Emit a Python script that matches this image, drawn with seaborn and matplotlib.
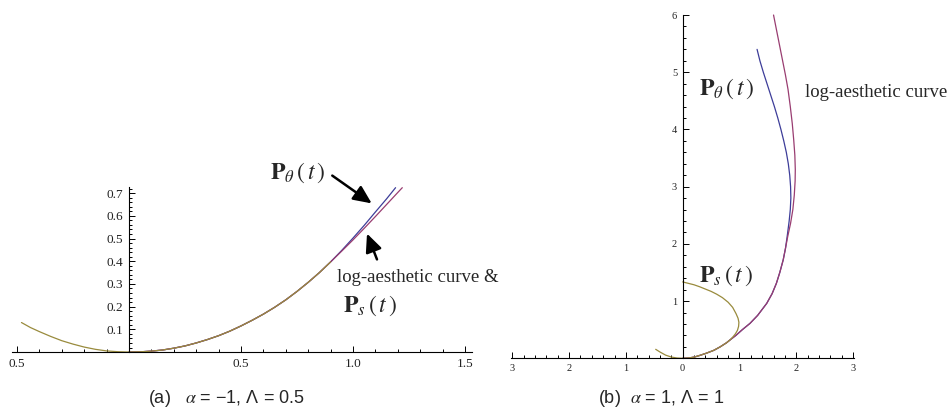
import matplotlib
matplotlib.use("Agg")
import matplotlib.pyplot as plt
import seaborn as sns
import numpy as np
from matplotlib.ticker import FixedLocator

# panel (a): alpha = -1, Lambda = 0.5
a_ps_x = [-0.48, -0.44, -0.4, -0.35, -0.3, -0.25, -0.2, -0.15, -0.1, -0.05, 0.0,
          0.05, 0.1, 0.15, 0.2, 0.25, 0.3, 0.35, 0.4, 0.45, 0.5, 0.55, 0.6, 0.65,
          0.7, 0.75, 0.8, 0.85, 0.9]
a_ps_y = [0.13, 0.108, 0.09, 0.069, 0.05, 0.035, 0.022, 0.012, 0.005, 0.0015, 0.0,
          0.001, 0.004, 0.009, 0.017, 0.027, 0.04, 0.055, 0.072, 0.092, 0.115, 0.14,
          0.167, 0.197, 0.23, 0.267, 0.307, 0.35, 0.397]
a_pth_tail_x = [0.95, 1.0, 1.05, 1.1, 1.15, 1.19]
a_pth_tail_y = [0.448, 0.502, 0.558, 0.617, 0.675, 0.724]
a_lac_tail_x = [0.95, 1.0, 1.05, 1.1, 1.15, 1.2, 1.22]
a_lac_tail_y = [0.445, 0.494, 0.545, 0.597, 0.65, 0.703, 0.724]

# panel (b): alpha = 1, Lambda = 1
b_ps_x = [-0.475, -0.4, -0.3, -0.2, -0.1, 0.0, 0.1, 0.2, 0.3, 0.42, 0.55, 0.66, 0.77,
          0.833, 0.89, 0.93, 0.965, 0.985, 0.99, 0.975, 0.94, 0.88, 0.8, 0.7, 0.6,
          0.5, 0.4, 0.3, 0.2, 0.1, 0.0]
b_ps_y = [0.157, 0.11, 0.055, 0.022, 0.005, 0.0, 0.005, 0.02, 0.05, 0.09, 0.14, 0.2,
          0.27, 0.32, 0.38, 0.43, 0.49, 0.56, 0.63, 0.7, 0.78, 0.89, 0.98, 1.06, 1.12,
          1.17, 1.21, 1.25, 1.285, 1.31, 1.335]
b_joint_x = [0.0, 0.1, 0.2, 0.3, 0.42, 0.55, 0.66, 0.77, 0.833, 0.937, 1.05, 1.185,
             1.32, 1.48, 1.575, 1.65, 1.71, 1.77, 1.81]
b_joint_y = [0.0, 0.005, 0.02, 0.05, 0.09, 0.14, 0.2, 0.27, 0.32, 0.4, 0.5, 0.61,
             0.75, 0.96, 1.13, 1.31, 1.5, 1.72, 1.92]
b_pth_tail_x = [1.84, 1.875, 1.895, 1.905, 1.9, 1.885, 1.86, 1.825, 1.78, 1.73,
                1.675, 1.615, 1.55, 1.485, 1.42, 1.36, 1.31]
b_pth_tail_y = [2.13, 2.4, 2.6, 2.8, 3.0, 3.2, 3.4, 3.6, 3.8, 4.0, 4.2, 4.4, 4.6,
                4.8, 5.0, 5.2, 5.4]
b_lac_tail_x = [1.85, 1.9, 1.94, 1.965, 1.98, 1.983, 1.975, 1.955, 1.93, 1.895, 1.855,
                1.81, 1.76, 1.71, 1.66, 1.6]
b_lac_tail_y = [2.13, 2.36, 2.6, 2.85, 3.1, 3.3, 3.55, 3.82, 4.1, 4.4, 4.7, 4.95,
                5.2, 5.45, 5.7, 6.0]

a_xticks = [-0.5, 0.5, 1.0, 1.5]
a_xlabels = ["0.5", "0.5", "1.0", "1.5"]
a_yticks = [0.1, 0.2, 0.3, 0.4, 0.5, 0.6, 0.7]
b_xticks = [-3, -2, -1, 0, 1, 2, 3]
b_xlabels = ["3", "2", "1", "0", "1", "2", "3"]
b_yticks = [1, 2, 3, 4, 5, 6]

BLUE = "#3D3D99"
MAGENTA = "#993D71"
GOLD = "#998B3D"
W, H = 951, 413

sns.set_theme(style="white")
plt.rcParams["font.family"] = ["Liberation Serif", "DejaVu Sans"]
plt.rcParams["mathtext.fontset"] = "stix"

fig = plt.figure(figsize=(W / 100, H / 100), dpi=100)
ax_a = fig.add_axes([0.01314, 0.1421, 0.4829, 0.404])
ax_b = fig.add_axes([0.5375, 0.1283, 0.3607, 0.8353])


def curve(ax, x, y, color):
    sns.lineplot(x=x, y=y, sort=False, estimator=None, color=color,
                 lw=0.9, ax=ax, clip_on=False)


def axes_style(ax, xlim, ylim, ytop, fs):
    ax.set_xlim(*xlim)
    ax.set_ylim(*ylim)
    for s in ["top", "right"]:
        ax.spines[s].set_visible(False)
    ax.spines["left"].set_position(("data", 0))
    ax.spines["bottom"].set_position(("data", 0))
    ax.spines["left"].set_bounds(0, ytop)
    for s in ["left", "bottom"]:
        ax.spines[s].set_color("black")
        ax.spines[s].set_linewidth(0.8)
    ax.tick_params(which="both", direction="in", bottom=True, left=True,
                   color="black", width=0.7, labelsize=fs, labelcolor="#222222")
    ax.tick_params(which="major", length=4)
    ax.tick_params(which="minor", length=2.2)
    ax.tick_params(axis="x", pad=4)
    ax.tick_params(axis="y", pad=4)
    ax.grid(False)


# (a)
curve(ax_a, a_ps_x[10:] + a_pth_tail_x, a_ps_y[10:] + a_pth_tail_y, BLUE)
curve(ax_a, a_ps_x[10:] + a_lac_tail_x, a_ps_y[10:] + a_lac_tail_y, MAGENTA)
curve(ax_a, a_ps_x, a_ps_y, GOLD)
axes_style(ax_a, (-0.52, 1.53), (-0.01, 0.725), 0.725, 9.5)
ax_a.set_xticks(a_xticks)
ax_a.set_xticklabels(a_xlabels)
ax_a.set_yticks(a_yticks)
ax_a.xaxis.set_minor_locator(FixedLocator(np.arange(-0.5, 1.51, 0.1)))
ax_a.yaxis.set_minor_locator(FixedLocator(np.arange(0.02, 0.721, 0.02)))

# (b)
curve(ax_b, b_joint_x + b_pth_tail_x, b_joint_y + b_pth_tail_y, BLUE)
curve(ax_b, b_joint_x + b_lac_tail_x, b_joint_y + b_lac_tail_y, MAGENTA)
curve(ax_b, b_ps_x, b_ps_y, GOLD)
axes_style(ax_b, (-3.02, 3.02), (-0.03, 6.0), 6.0, 7.5)
ax_b.set_xticks(b_xticks)
ax_b.set_xticklabels(b_xlabels)
ax_b.set_yticks(b_yticks)
ax_b.xaxis.set_minor_locator(FixedLocator(np.arange(-3, 3.01, 0.2)))
ax_b.yaxis.set_minor_locator(FixedLocator(np.arange(0.2, 6.01, 0.2)))


def ptext(x, y, s, **kw):
    fig.text(x / W, 1 - y / H, s, va="baseline", ha="left", **kw)


def arrow(tail, head):
    ax_a.annotate("", xy=(head[0] / W, 1 - head[1] / H), xycoords="figure fraction",
                  xytext=(tail[0] / W, 1 - tail[1] / H), textcoords="figure fraction",
                  arrowprops=dict(arrowstyle="-|>,head_length=0.55,head_width=0.25",
                                  mutation_scale=20, lw=1.8, color="black"))


P_THETA = r"$\mathbf{P}_{\theta}\,(\,t\,)$"
P_S = r"$\mathbf{P}_{s}\,(\,t\,)$"

ptext(270, 179, P_THETA, fontsize=17)
ptext(337, 282, "log-aesthetic curve &", fontsize=13.5)
ptext(343, 312, P_S, fontsize=17)
arrow((330, 174), (374, 205))
arrow((378, 262), (366, 231))

ptext(699, 95, P_THETA, fontsize=17)
ptext(805, 97, "log-aesthetic curve", fontsize=13.5)
ptext(699, 282, P_S, fontsize=17)

cap = dict(fontsize=13, family=["Liberation Sans Narrow", "Liberation Sans", "DejaVu Sans"])
ptext(148, 403, r"(a)   $\alpha$ = −1, Λ = 0.5", **cap)
ptext(598, 403, r"(b)  $\alpha$ = 1, Λ = 1", **cap)

fig.savefig("out.png", dpi=100)
